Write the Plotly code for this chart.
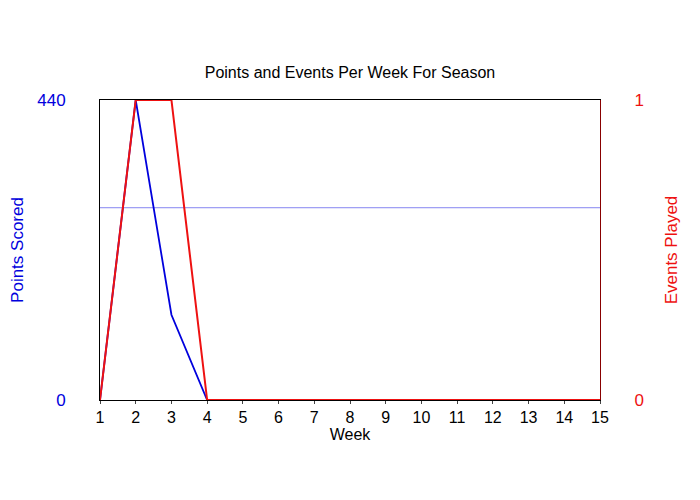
import plotly.graph_objects as go

weeks = list(range(1, 16))
points = [0, 440, 125, 0, 0, 0, 0, 0, 0, 0, 0, 0, 0, 0, 0]
events = [0, 1, 1, 0, 0, 0, 0, 0, 0, 0, 0, 0, 0, 0, 0]
ref_level = 282

fig = go.Figure()
fig.add_trace(go.Scatter(x=weeks, y=[ref_level]*len(weeks), mode="lines",
                         line=dict(color="#6666ee", width=0.8), yaxis="y"))
fig.add_trace(go.Scatter(x=weeks, y=points, mode="lines",
                         line=dict(color="#0000dd", width=1.8), yaxis="y"))
fig.add_trace(go.Scatter(x=weeks, y=events, mode="lines",
                         line=dict(color="#ee1111", width=2), yaxis="y2"))

fig.update_layout(
    width=700, height=500, showlegend=False,
    paper_bgcolor="white", plot_bgcolor="white",
    font=dict(family="Liberation Sans, Arial", size=16, color="black"),
    margin=dict(l=92, r=108, t=92, b=108, autoexpand=False),
    title=dict(text="Points and Events Per Week For Season", x=0.5, xref="paper",
               y=0.872, yanchor="middle", xanchor="center", font=dict(size=16)),
    xaxis=dict(range=[1, 15], tickvals=weeks, showgrid=False, zeroline=False,
               title=dict(text="Week", standoff=0, font=dict(size=16)),
               ticks="outside", ticklen=3, tickfont=dict(size=16),
               showline=True, linecolor="black", mirror=True),
    yaxis=dict(range=[0, 440], tickvals=[0, 440], showgrid=False, zeroline=False,
               title=dict(text="Points Scored", font=dict(color="#0000dd", size=17), standoff=22),
               ticks="outside", ticklen=30, tickcolor="rgba(0,0,0,0)",
               tickfont=dict(color="#0000dd", size=17), showline=True, linecolor="black"),
    yaxis2=dict(range=[0, 1], tickvals=[0, 1], overlaying="y", side="right",
                showgrid=False, zeroline=False,
                title=dict(text="Events Played", font=dict(color="#ee1111", size=17), standoff=22),
                ticks="outside", ticklen=30, tickcolor="rgba(0,0,0,0)",
                tickfont=dict(color="#ee1111", size=17), showline=True, linecolor="#880000"),
)
fig.write_html("out.html")
